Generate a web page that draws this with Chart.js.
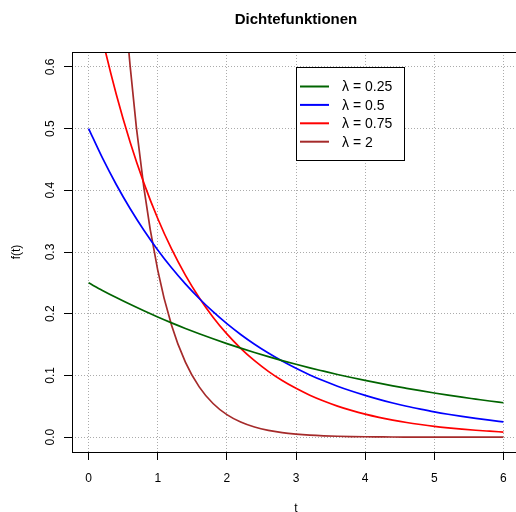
<!DOCTYPE html>
<html><head><meta charset="utf-8">
<script src="https://cdn.jsdelivr.net/npm/chart.js@4/dist/chart.umd.min.js"></script>
<style>html,body{margin:0;padding:0;overflow:hidden;background:#fff;width:516px;height:512px}canvas{display:block}</style>
</head><body>
<canvas id="c" width="530" height="512"></canvas>
<script>
// t values (x axis)
const tValues = [0,0.2,0.4,0.6,0.8,1.0,1.2,1.4,1.6,1.8,2.0,2.2,2.4,2.6,2.8,3.0,3.2,3.4,3.6,3.8,4.0,4.2,4.4,4.6,4.8,5.0,5.2,5.4,5.6,5.8,6.0];
// density values
const dens025 = [0.2500,0.2378,0.2262,0.2152,0.2047,0.1947,0.1852,0.1762,0.1676,0.1594,0.1516,0.1442,0.1372,0.1305,0.1241,0.1181,0.1123,0.1069,0.1016,0.0967,0.0920,0.0875,0.0832,0.0792,0.0753,0.0716,0.0681,0.0648,0.0617,0.0586,0.0558];
const dens05  = [0.5000,0.4524,0.4094,0.3704,0.3352,0.3033,0.2744,0.2483,0.2247,0.2033,0.1839,0.1664,0.1506,0.1363,0.1233,0.1116,0.1009,0.0913,0.0826,0.0748,0.0677,0.0612,0.0554,0.0501,0.0454,0.0410,0.0371,0.0336,0.0304,0.0275,0.0249];
const dens075 = [0.7500,0.6455,0.5556,0.4782,0.4116,0.3543,0.3049,0.2625,0.2259,0.1944,0.1673,0.1440,0.1240,0.1067,0.0918,0.0791,0.0680,0.0586,0.0504,0.0434,0.0373,0.0321,0.0277,0.0238,0.0205,0.0176,0.0152,0.0131,0.0112,0.0097,0.0083];
const dens2   = [2.0000,1.3406,0.8987,0.6024,0.4038,0.2707,0.1814,0.1216,0.0815,0.0546,0.0366,0.0246,0.0165,0.0110,0.0074,0.0050,0.0033,0.0022,0.0015,0.0010,0.0007,0.0005,0.0003,0.0002,0.0001,0.0001,0.0001,0.0000,0.0000,0.0000,0.0000];
const seriesLabels = ['λ = 0.25','λ = 0.5','λ = 0.75','λ = 2'];
const seriesColors = ['#006400','#0000FF','#FF0000','#A52A2A'];
const xTicks = [0,1,2,3,4,5,6];
const yTicks = [0,0.1,0.2,0.3,0.4,0.5,0.6];
const titleText = 'Dichtefunktionen';
const xTitle = 't';
const yTitle = 'f(t)';

const FONT = "'Liberation Sans', Arial, Helvetica, sans-serif";
const allSeries = [dens025, dens05, dens075, dens2];

const datasets = allSeries.map((vals, i) => ({
  label: seriesLabels[i],
  data: tValues.map((t, j) => ({x: t, y: vals[j]})),
  borderColor: seriesColors[i],
  backgroundColor: seriesColors[i],
  borderWidth: 1.7,
  pointRadius: 0,
  fill: false,
  cubicInterpolationMode: 'monotone',
  clip: 0
}));

const boxPlugin = {
  id: 'rbox',
  afterDatasetsDraw(chart) {
    const {ctx, chartArea: a} = chart;
    ctx.save();
    ctx.strokeStyle = '#000';
    ctx.lineWidth = 1;
    ctx.strokeRect(Math.round(a.left) + 0.5, Math.round(a.top) + 0.5, Math.round(a.right - a.left), Math.round(a.bottom - a.top));
    ctx.restore();
  }
};

const legendPlugin = {
  id: 'rlegend',
  afterDatasetsDraw(chart) {
    const {ctx, scales: {x, y}} = chart;
    const left = Math.round(x.getPixelForValue(3));
    const top = Math.round(y.getPixelForValue(0.6));
    const w = 108, h = 93, firstRow = 19.5, rowGap = 18.4;
    ctx.save();
    ctx.fillStyle = '#fff';
    ctx.fillRect(left, top, w, h);
    ctx.strokeStyle = '#000';
    ctx.lineWidth = 1;
    ctx.strokeRect(left + 0.5, top + 0.5, w, h);
    ctx.font = '14px ' + FONT;
    ctx.textBaseline = 'middle';
    ctx.textAlign = 'left';
    chart.data.datasets.forEach((ds, i) => {
      const yy = top + firstRow + i * rowGap;
      ctx.strokeStyle = ds.borderColor;
      ctx.lineWidth = 2;
      ctx.beginPath();
      ctx.moveTo(left + 4, yy);
      ctx.lineTo(left + 33, yy);
      ctx.stroke();
      ctx.fillStyle = '#000';
      ctx.fillText(ds.label, left + 46, yy + 1);
    });
    ctx.restore();
  }
};

new Chart(document.getElementById('c'), {
  type: 'line',
  data: {datasets},
  options: {
    responsive: false,
    animation: false,
    devicePixelRatio: 1,
    layout: {padding: {left: 0, right: 10, top: 0, bottom: 0}},
    plugins: {
      legend: {display: false},
      tooltip: {enabled: false},
      title: {
        display: true,
        text: titleText,
        fullSize: false,
        color: '#000',
        font: {family: FONT, size: 15, weight: 'bold', lineHeight: 1.2},
        padding: {top: 11, bottom: 23}
      }
    },
    scales: {
      x: {
        type: 'linear',
        min: -0.24,
        max: 6.24,
        afterBuildTicks: s => { s.ticks = xTicks.map(v => ({value: v})); },
        afterFit: s => { s.height = 60; },
        grid: {color: '#ababab', lineWidth: 1, tickLength: 8, tickColor: '#000', tickWidth: 1},
        border: {display: false, dash: [1, 2]},
        ticks: {
          autoSkip: false, maxRotation: 0, minRotation: 0,
          color: '#000', padding: 11,
          font: {family: FONT, size: 12, lineHeight: 1.2},
          callback: v => String(v)
        },
        title: {display: true, text: xTitle, color: '#000', font: {family: FONT, size: 12, lineHeight: 1}, padding: {top: 0, bottom: -3}}
      },
      y: {
        type: 'linear',
        min: -0.024,
        max: 0.624,
        afterBuildTicks: s => { s.ticks = yTicks.map(v => ({value: v})); },
        afterFit: s => { s.width = 72; },
        grid: {color: '#ababab', lineWidth: 1, tickLength: 8, tickColor: '#000', tickWidth: 1},
        border: {display: false, dash: [1, 2]},
        ticks: {
          autoSkip: false, minRotation: 90, maxRotation: 90, crossAlign: 'center',
          color: '#000', padding: 5,
          font: {family: FONT, size: 12, lineHeight: 1.2},
          callback: v => Number(v).toFixed(1)
        },
        title: {display: true, text: yTitle, color: '#000', font: {family: FONT, size: 12, lineHeight: 1}, padding: {top: 11, bottom: 0}}
      }
    }
  },
  plugins: [boxPlugin, legendPlugin]
});
</script>
</body></html>
